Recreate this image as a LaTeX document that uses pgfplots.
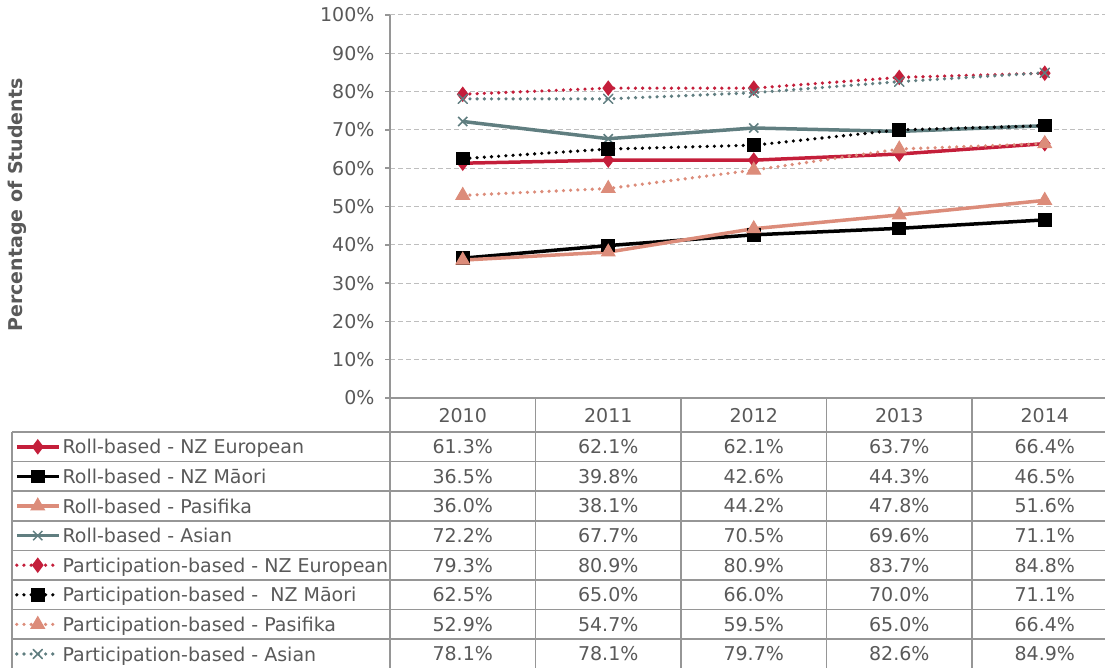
\documentclass[border=0pt]{standalone}
\usepackage{pgfplots}
\pgfplotsset{compat=1.18}
\usepackage{fontspec}
\setmainfont{DejaVu Sans}
\definecolor{cred}{RGB}{196,30,58}
\definecolor{csal}{RGB}{220,140,122}
\definecolor{cteal}{RGB}{96,126,128}
\definecolor{ctext}{RGB}{89,89,89}
\definecolor{cgrid}{RGB}{190,190,190}
\definecolor{caxis}{RGB}{150,150,150}
\newcommand\tf{\fontsize{19}{22}\selectfont}
\begin{document}
\begin{tikzpicture}[x=1pt,y=1pt]
\useasboundingbox (0,0) rectangle (1105,668);
\begin{axis}[
  at={(390pt,270pt)}, anchor=south west, scale only axis,
  width=727.5pt, height=383pt,
  xmin=-0.5, xmax=4.5, ymin=0, ymax=100,
  axis x line=bottom, axis y line=left,
  axis line style={draw=caxis, line width=1.5pt, -},
  xtick=\empty,
  ytick={0,10,...,100},
  yticklabel={\pgfmathprintnumber{\tick}\%},
  /pgf/number format/assume math mode=true,
  ymajorgrids,
  grid style={draw=cgrid, line width=1pt, dash pattern=on 5pt off 3pt},
  tick align=outside, major tick length=5pt,
  tick style={draw=caxis, line width=1.5pt},
  yticklabel style={font=\tf, text=ctext, xshift=-7pt},
  ylabel={Percentage of Students},
  every axis y label/.style={at={(axis description cs:-0.5127,0.504)}, rotate=90, anchor=center, font=\tf\bfseries, text=ctext},
  clip=false,
  legend cell align=left,
  legend style={at={(axis description cs:-0.5155,-0.0888)}, anchor=north west,
    draw=none, fill=none, inner sep=0pt, outer sep=0pt, row sep=0pt,
    font=\tf, text=ctext,
    nodes={inner sep=0pt, outer sep=0pt, text height=21.8pt, text depth=7.8pt},
    /tikz/every odd column/.style={column sep=2pt}},
  legend image code/.code={\draw[mark repeat=2,mark phase=2,#1] plot coordinates {(0pt,0pt)(21pt,0pt)(42pt,0pt)};},
  roll/.style={line width=3.5pt},
  part/.style={line width=3.6pt, line cap=round, dash pattern=on 0pt off 7.2pt},
]
\addplot[roll, cred, mark=diamond*, mark size=7pt, mark options={solid, fill=cred, line width=1pt}]
  coordinates {(0,61.3)(1,62.1)(2,62.1)(3,63.7)(4,66.4)};
\addlegendentry{Roll-based - NZ European}
\addplot[roll, black, mark=square*, mark size=6.3pt, mark options={solid, fill=black, line width=1pt}]
  coordinates {(0,36.5)(1,39.8)(2,42.6)(3,44.3)(4,46.5)};
\addlegendentry{Roll-based - NZ Māori}
\addplot[roll, csal, mark=triangle*, mark size=7.8pt, mark options={solid, fill=csal, line width=1pt}]
  coordinates {(0,36.0)(1,38.1)(2,44.2)(3,47.8)(4,51.6)};
\addlegendentry{Roll-based - Pasifika}
\addplot[roll, cteal, mark=x, mark size=6.5pt, mark options={solid, line width=1.5pt}]
  coordinates {(0,72.2)(1,67.7)(2,70.5)(3,69.6)(4,71.1)};
\addlegendentry{Roll-based - Asian}
\addplot[part, cred, mark=diamond*, mark size=7pt, mark options={solid, fill=cred, line width=1pt}]
  coordinates {(0,79.3)(1,80.9)(2,80.9)(3,83.7)(4,84.8)};
\addlegendentry{Participation-based - NZ European}
\addplot[part, black, mark=square*, mark size=6.3pt, mark options={solid, fill=black, line width=1pt}]
  coordinates {(0,62.5)(1,65.0)(2,66.0)(3,70.0)(4,71.1)};
\addlegendentry{Participation-based -\ \ NZ Māori}
\addplot[part, csal, mark=triangle*, mark size=7.8pt, mark options={solid, fill=csal, line width=1pt}]
  coordinates {(0,52.9)(1,54.7)(2,59.5)(3,65.0)(4,66.4)};
\addlegendentry{Participation-based - Pasifika}
\addplot[part, cteal, mark=x, mark size=6.5pt, mark options={solid, line width=1.5pt}]
  coordinates {(0,78.1)(1,78.1)(2,79.7)(3,82.6)(4,84.9)};
\addlegendentry{Participation-based - Asian}
\end{axis}
% data table grid
\begin{scope}[draw=caxis, line width=1.5pt]
\foreach \k in {0,...,7} { \draw (12,{668-432-29.6*\k}) -- (1110,{668-432-29.6*\k}); }
\draw (12,236) -- (12,-2);
\foreach \xx in {390,535.5,681,826.5,972} { \draw (\xx,270) -- (\xx,-2); }
\end{scope}
\foreach \yy [count=\c from 0] in {2010,2011,2012,2013,2014} {
  \node[anchor=base, font=\tf, text=ctext, inner sep=0pt] at ({462.75+145.5*\c},{668-423}) {\yy};
}
\foreach \vals [count=\r from 0] in {
  {61.3,62.1,62.1,63.7,66.4},
  {36.5,39.8,42.6,44.3,46.5},
  {36.0,38.1,44.2,47.8,51.6},
  {72.2,67.7,70.5,69.6,71.1},
  {79.3,80.9,80.9,83.7,84.8},
  {62.5,65.0,66.0,70.0,71.1},
  {52.9,54.7,59.5,65.0,66.4},
  {78.1,78.1,79.7,82.6,84.9}} {
  \foreach \v [count=\c from 0] in \vals {
    \node[anchor=base, font=\tf, text=ctext, inner sep=0pt] at ({462.75+145.5*\c},{668-432-29.6*\r-21.8}) {\v\%};
  }
}
\end{tikzpicture}
\end{document}
